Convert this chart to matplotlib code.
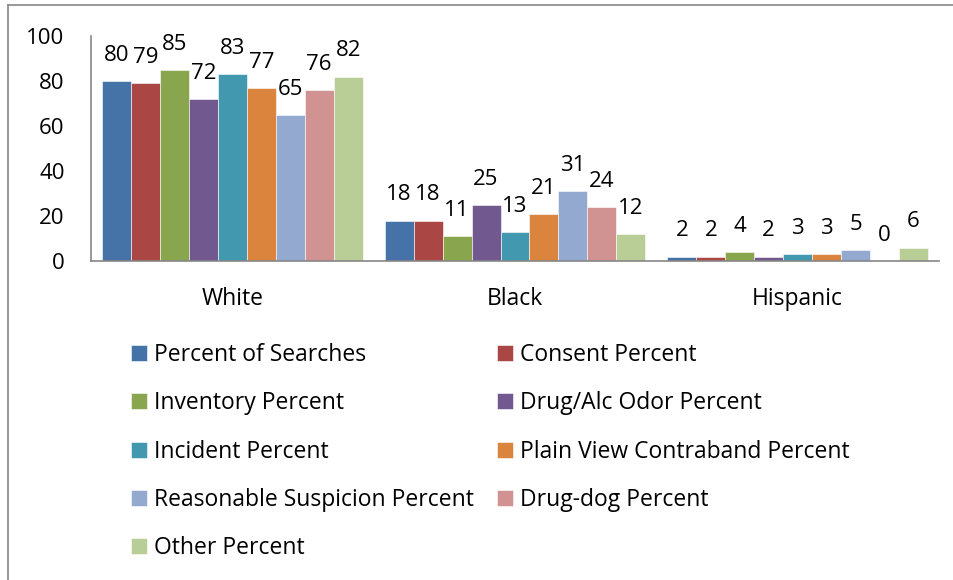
import matplotlib.pyplot as plt
import numpy as np
from matplotlib.lines import Line2D

plt.rcParams['font.family'] = ['Open Sans', 'DejaVu Sans']

groups = ['White', 'Black', 'Hispanic']
series = ['Percent of Searches', 'Consent Percent', 'Inventory Percent',
          'Drug/Alc Odor Percent', 'Incident Percent',
          'Plain View Contraband Percent', 'Reasonable Suspicion Percent',
          'Drug-dog Percent', 'Other Percent']
values = [
    [80, 18, 2],   # Percent of Searches
    [79, 18, 2],   # Consent
    [85, 11, 4],   # Inventory
    [72, 25, 2],   # Drug/Alc Odor
    [83, 13, 3],   # Incident
    [77, 21, 3],   # Plain View Contraband
    [65, 31, 5],   # Reasonable Suspicion
    [76, 24, 0],   # Drug-dog
    [82, 12, 6],   # Other
]
colors = ['#4572A7', '#AA4643', '#89A54E', '#71588F', '#4198AF',
          '#DB843D', '#93A9CF', '#D19392', '#B9CD96']


def main():
    fig = plt.figure(figsize=(9.54, 5.8), dpi=100)
    ax = fig.add_axes([91 / 954, 1 - 261 / 580, 848 / 954, 225 / 580])

    x = np.arange(len(groups))
    width = 0.922 / len(series)
    handles = []
    for i, (name, vals) in enumerate(zip(series, values)):
        pos = x - 0.461 + width * (i + 0.5)
        bars = ax.bar(pos, vals, width, color=colors[i], edgecolor='white',
                      linewidth=0.4, label=name)
        handles.append(bars)
        for p, v in zip(pos, vals):
            ax.annotate(str(v), (p, v), xytext=(0, 18.5), textcoords='offset points',
                        ha='center', va='center', fontsize=16)

    ax.set_xlim(-0.5, 2.5)
    ax.set_ylim(0, 100)
    ax.set_yticks(np.arange(0, 101, 20))
    ax.set_xticks(x)
    ax.set_xticklabels(groups)
    ax.tick_params(axis='y', length=0, pad=19, labelsize=16)
    ax.tick_params(axis='x', length=0, pad=19, labelsize=16.5)
    for side in ['top', 'right']:
        ax.spines[side].set_visible(False)
    for side in ['left', 'bottom']:
        ax.spines[side].set_color('#868686')
        ax.spines[side].set_linewidth(1.2)

    # legend fills column by column, so reorder to read row-wise
    order = [0, 2, 4, 6, 8, 1, 3, 5, 7]
    fig.legend([handles[k] for k in order], [series[k] for k in order],
               ncol=2, loc='upper left', bbox_to_anchor=(122 / 954, 1 - 334 / 580),
               frameon=False, fontsize=16.5, handlelength=0.7, handleheight=0.7,
               handletextpad=0.3, labelspacing=1.06, columnspacing=1.0,
               borderaxespad=0)

    # page frame around the chart
    fig.add_artist(Line2D([8 / 954, 8 / 954], [0, 1 - 5 / 580],
                          transform=fig.transFigure, color='#878787', lw=1.2))
    fig.add_artist(Line2D([8 / 954, 1], [1 - 5 / 580, 1 - 5 / 580],
                          transform=fig.transFigure, color='#878787', lw=1.2))

    fig.savefig('out.png', dpi=100)


if __name__ == "__main__":
    main()
